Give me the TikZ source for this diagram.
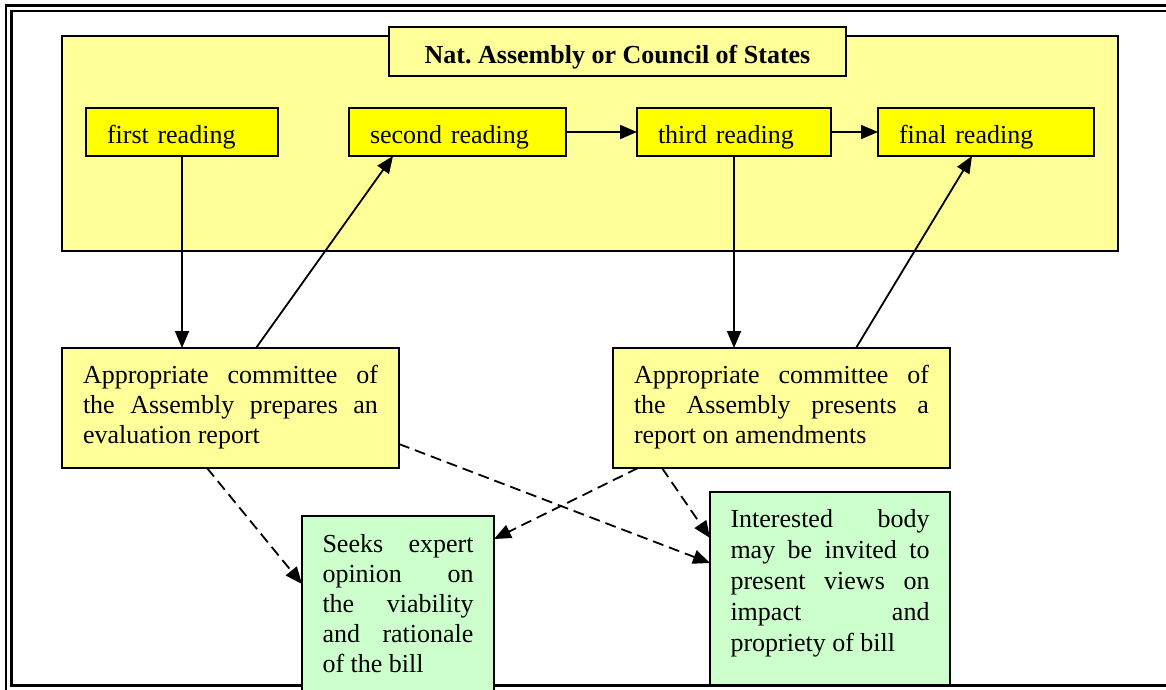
\documentclass[tikz,border=0pt]{standalone}
\usepackage{fontspec}
\setmainfont{Liberation Serif}
\usetikzlibrary{arrows.meta}
\definecolor{paleyellow}{HTML}{FFFF99}
\definecolor{brightyellow}{HTML}{FFFF00}
\definecolor{palegreen}{HTML}{CCFFCC}
\frenchspacing
\begin{document}
\begin{tikzpicture}[x=1pt,y=-1pt,
  every node/.style={font=\fontsize{26}{30}\selectfont\frenchspacing, inner sep=0pt, outer sep=0pt},
  box/.style={draw, line width=2pt, anchor=north west},
  readbox/.style={box, fill=brightyellow, inner xsep=21pt, inner ysep=0pt, align=left, text height=35pt, text depth=13pt},
  combox/.style={box, fill=paleyellow, inner xsep=21pt, inner ysep=0pt, text width=295pt, align=justify, text height=35pt, text depth=85pt},
  greenbox/.style={box, fill=palegreen, inner xsep=20.5pt, inner ysep=0pt, align=justify},
  frameline/.style={line width=2.2pt},
  arr/.style={line width=1.8pt, -{Triangle[length=17pt,width=14pt]}},
  dasharr/.style={arr, dash pattern=on 11pt off 6pt}
]
\useasboundingbox (0,0) rectangle (1166,689);
\clip (0,0) rectangle (1166,689);
\fill[white] (0,0) rectangle (1166,689);
% outer double frame
\draw[frameline] (6,5.5) rectangle (1173,691);
\draw[frameline] (11.5,11) rectangle (1168,685.5);

% assembly container
\node[box, fill=paleyellow, minimum width=1056pt, minimum height=215pt] (assembly) at (62,36) {};
\node[box, fill=paleyellow, minimum width=457pt, inner ysep=0pt, text height=36pt, text depth=13pt, font=\fontsize{26}{30}\selectfont\bfseries] (title) at (389,27) {Nat. Assembly or Council of States};

% readings
\node[readbox, text width=150pt] (first) at (86,108) {first reading};
\node[readbox, text width=175pt] (second) at (349,108) {second reading};
\node[readbox, text width=152pt] (third) at (637,108) {third reading};
\node[readbox, text width=174pt] (final) at (878,108) {final reading};

% committees
\node[combox] (lc) at (62,348) {Appropriate committee of\linebreak the Assembly prepares an\linebreak evaluation report};
\node[combox] (rc) at (613,348) {Appropriate committee of\linebreak the Assembly presents a\linebreak report on amendments};

% green boxes
\node[greenbox, text width=151pt, text height=36pt, text depth=140pt] (gl) at (302,516)
  {Seeks expert\linebreak opinion on\linebreak the viability\linebreak and rationale\linebreak of the bill};
\node[greenbox, text width=199pt, text height=35pt, text depth=158pt, font=\fontsize{26}{31}\selectfont] (gr) at (710,492)
  {Interested body\linebreak may be invited to\linebreak present views on\linebreak impact and\linebreak propriety of bill};

% solid connectors
\draw[arr] (first.south) -- (first.south |- lc.north);
\draw[arr] ([xshift=194pt]lc.north west) -- ([xshift=44pt]second.south west);
\draw[arr] (second.east) -- (third.west);
\draw[arr] (third.east) -- (final.west);
\draw[arr] (third.south) -- (third.south |- rc.north);
\draw[arr] ([xshift=243pt]rc.north west) -- ([xshift=94pt]final.south west);

% dashed connectors
\draw[dasharr] ([xshift=145pt]lc.south west) -- ([yshift=-68pt]gl.north west);
\draw[dasharr] ([yshift=24pt]lc.south east) -- ([yshift=-71pt]gr.north west);
\draw[dasharr] ([xshift=25pt]rc.south west) -- ([yshift=-23pt]gl.north east);
\draw[dasharr] ([xshift=49pt]rc.south west) -- ([yshift=-46pt]gr.north west);
\end{tikzpicture}
\end{document}
